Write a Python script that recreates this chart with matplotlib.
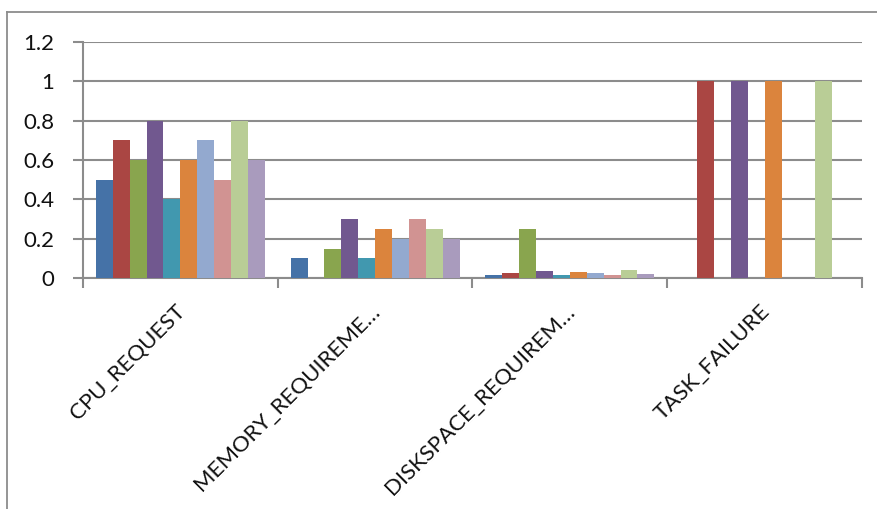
import matplotlib
matplotlib.use("Agg")
import matplotlib.pyplot as plt
from matplotlib.lines import Line2D
from matplotlib.transforms import ScaledTranslation
import numpy as np

categories = ["CPU_REQUEST", "MEMORY_REQUIREME…", "DISKSPACE_REQUIREM…", "TASK_FAILURE"]
s1 = [0.5, 0.1, 0.015, 0.0]
s2 = [0.7, 0.0, 0.025, 1.0]
s3 = [0.6, 0.15, 0.25, 0.0]
s4 = [0.8, 0.3, 0.035, 1.0]
s5 = [0.4, 0.1, 0.015, 0.0]
s6 = [0.6, 0.25, 0.03, 1.0]
s7 = [0.7, 0.2, 0.025, 0.0]
s8 = [0.5, 0.3, 0.015, 0.0]
s9 = [0.8, 0.25, 0.04, 1.0]
s10 = [0.6, 0.2, 0.02, 0.0]
series = [s1, s2, s3, s4, s5, s6, s7, s8, s9, s10]
y_ticks = [0, 0.2, 0.4, 0.6, 0.8, 1.0, 1.2]
y_tick_labels = ["0", "0.2", "0.4", "0.6", "0.8", "1", "1.2"]

colors = ["#4572A7", "#AA4643", "#89A54E", "#71588F", "#4198AF",
          "#DB843D", "#93A9CF", "#D19392", "#B9CD96", "#A99BBD"]

plt.rcParams['font.family'] = ['Lato', 'DejaVu Sans']

W, H = 878, 509
fig = plt.figure(figsize=(W / 100, H / 100), dpi=100)
ax = fig.add_axes([83 / W, 1 - 278 / H, (862 - 83) / W, (278 - 42) / H])

n = len(series)
group = 0.867
bw = group / n
x = np.arange(len(categories)) + 0.5
for i, s in enumerate(series):
    offs = -group / 2 + bw * (i + 0.5)
    ax.bar(x + offs, s, width=bw, color=colors[i], zorder=3, linewidth=0)

ax.set_xlim(0, len(categories))
ax.set_ylim(0, 1.2)
ax.set_yticks(y_ticks)
ax.set_yticklabels(y_tick_labels, fontsize=16, color="#111111")
ax.yaxis.grid(True, color="#8C8C8C", linewidth=1.5, zorder=0)
ax.set_axisbelow(True)

ax.set_xticks(np.arange(len(categories) + 1))
ax.set_xticklabels([])
ax.set_xticks(x, minor=True)
ax.set_xticklabels(categories, minor=True, rotation=45, ha="right", va="center",
                   rotation_mode="anchor", fontsize=16, color="#111111")
ax.tick_params(axis="x", which="minor", length=0, pad=21.5)
ax.tick_params(axis="x", which="major", direction="out", length=7,
               width=1.5, color="#8C8C8C")
ax.tick_params(axis="y", direction="out", length=7, width=1.5,
               color="#8C8C8C", pad=13.5)
shift = ScaledTranslation(1.5 / 100, 0, fig.dpi_scale_trans)
for lab in ax.get_xticklabels(minor=True):
    lab.set_transform(lab.get_transform() + shift)

for side in ["top", "right"]:
    ax.spines[side].set_visible(False)
for side in ["left", "bottom"]:
    ax.spines[side].set_color("#8C8C8C")
    ax.spines[side].set_linewidth(1.5)

# outer chart frame
fig.add_artist(Line2D([7.5 / W, 7.5 / W], [0, 1 - 12 / H], color="#8C8C8C",
                      linewidth=1.3, transform=fig.transFigure))
fig.add_artist(Line2D([7.5 / W, 1], [1 - 12 / H, 1 - 12 / H], color="#8C8C8C",
                      linewidth=1.3, transform=fig.transFigure))

fig.savefig("out.png", dpi=100)
